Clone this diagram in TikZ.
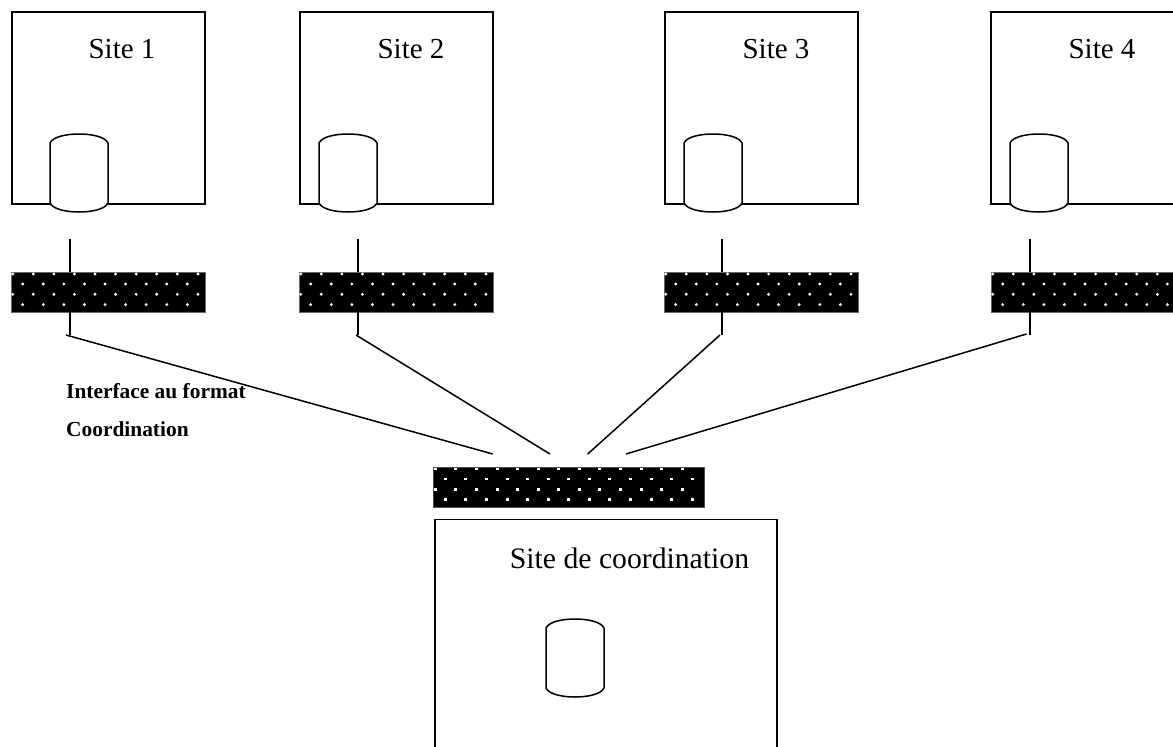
\documentclass[tikz,border=0pt]{standalone}
\usepackage{fontspec}
\setmainfont{Liberation Serif}
\tikzset{
  sitebox/.style={draw=black,line width=1.8pt,fill=white,rectangle,anchor=north west,inner sep=0pt,outer sep=0pt,minimum height=192pt},
  netbar/.style={fill=black,draw=black!60,line width=0.5pt,rectangle,anchor=north west,inner sep=0pt,outer sep=0pt,minimum height=40pt},
  link/.style={draw=black,line width=1.5pt},
  cyl/.style={draw=black,line width=1.5pt,fill=white},
  sitelabel/.style={inner sep=0pt,font=\fontsize{29}{33}\selectfont},
  notelabel/.style={inner sep=0pt,anchor=west,font=\bfseries\fontsize{21.4}{25}\selectfont}
}
% x of left side, y of top: cylinder 58 wide, 78 high
\newcommand{\cylinderat}[2]{%
  \draw[cyl] (#1,#2+9) .. controls (#1+3,#2+2.5) and (#1+17,#2) .. (#1+29,#2)
    .. controls (#1+41,#2) and (#1+55,#2+2.5) .. (#1+58,#2+9)
    -- (#1+58,#2+69) .. controls (#1+55,#2+75.5) and (#1+41,#2+78) .. (#1+29,#2+78)
    .. controls (#1+17,#2+78) and (#1+3,#2+75.5) .. (#1,#2+69) -- cycle;}
% x and y of the first dot of the top row, number of columns, dot path
\newcommand{\dotsat}[4]{%
  \foreach \c in {0,...,#3}{
    \fill[white] (#1+20.58*\c,#2) #4;
    \fill[white] (#1+20.58*\c,#2+20.3) #4;
    \fill[white] (#1+10+20.58*\c,#2+10) #4;
    \fill[white] (#1+10+20.58*\c,#2+30.6) #4;
  }}
\begin{document}
\begin{tikzpicture}[x=1pt,y=-1pt]
\useasboundingbox (0,0) rectangle (1173,747);
\clip (0,0) rectangle (1173,747);
\fill[white] (0,0) rectangle (1173,747);

% sites
\node[sitebox,minimum width=193pt] (site1) at (12,12) {};
\node[sitebox,minimum width=193pt] (site2) at (300,12) {};
\node[sitebox,minimum width=193pt] (site3) at (665,12) {};
\node[sitebox,minimum width=240pt] (site4) at (991,12) {};
\node[sitebox,minimum width=342pt,minimum height=260pt] (central) at (435,519.5) {};

\node[sitelabel] (t1) at (122,49) {Site 1};
\node[sitelabel] (t2) at (411,49) {Site 2};
\node[sitelabel] (t3) at (776,49) {Site 3};
\node[sitelabel] (t4) at (1102,49) {Site 4};
\node[sitelabel,font=\fontsize{29.7}{33}\selectfont] (t5) at (629.5,558) {Site de coordination};

% databases
\cylinderat{50}{134}
\cylinderat{319}{134}
\cylinderat{684}{134}
\cylinderat{1010}{134}
\cylinderat{546}{619}

% interface bars
\node[netbar,minimum width=194pt] (bar1) at (11,272) {};
\node[netbar,minimum width=194pt] (bar2) at (299,272) {};
\node[netbar,minimum width=194pt] (bar3) at (664,272) {};
\node[netbar,minimum width=240pt] (bar4) at (991,272) {};
\node[netbar,minimum width=271pt,draw=black!70] (bar5) at (433.5,467) {};

\dotsat{12.7}{274}{9}{circle[radius=1.6pt]}
\dotsat{300.7}{274}{9}{circle[radius=1.6pt]}
\dotsat{665.7}{274}{9}{circle[radius=1.6pt]}
\dotsat{992.7}{274}{9}{circle[radius=1.6pt]}
\dotsat{435.3}{469}{12}{+(-1.5,-1.3) rectangle +(1.5,1.3)}

% connectors
\coordinate (a1) at (70,239);
\coordinate (a2) at (358,239);
\coordinate (a3) at (722,239);
\coordinate (a4) at (1030,239);
\coordinate (b1) at (70,335);
\coordinate (b2) at (358,335);
\coordinate (b3) at (722,335);
\coordinate (b4) at (1030,335);
\coordinate (c1) at (66,335);
\coordinate (c2) at (356,335);
\coordinate (c3) at (720,335);
\coordinate (c4) at (1026.5,334);
\coordinate (d1) at (492.7,454);
\coordinate (d2) at (550,454);
\coordinate (d3) at (587.7,454);
\coordinate (d4) at (626,454);

\draw[link] (a1) -- (a1 |- bar1.north);
\draw[link] (a2) -- (a2 |- bar2.north);
\draw[link] (a3) -- (a3 |- bar3.north);
\draw[link] (a4) -- (a4 |- bar4.north);
\draw[link] (b1 |- bar1.south) -- (b1);
\draw[link] (b2 |- bar2.south) -- (b2);
\draw[link] (b3 |- bar3.south) -- (b3);
\draw[link] (b4 |- bar4.south) -- (b4);

\node[notelabel] (n1) at (66,391) {Interface au format};
\node[notelabel] (n2) at (66,429) {Coordination};

\draw[link] (c1) -- (d1);
\draw[link] (c2) -- (d2);
\draw[link] (c3) -- (d3);
\draw[link] (c4) -- (d4);
\end{tikzpicture}
\end{document}
